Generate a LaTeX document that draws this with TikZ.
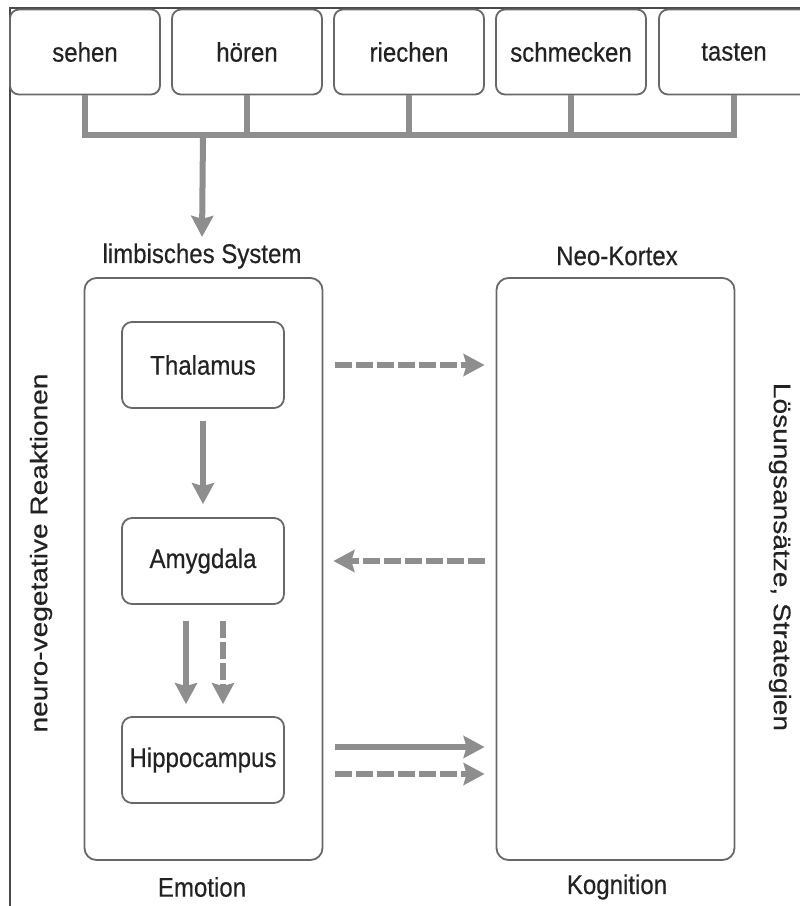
\documentclass[tikz,border=0pt]{standalone}
\usepackage{fontspec}
\usetikzlibrary{arrows.meta}
\newfontfamily\lab[FakeStretch=0.89,FakeBold=0.4]{Liberation Sans}
\newfontfamily\rotlab[FakeStretch=1.17,FakeBold=0.4]{Liberation Sans}
\definecolor{boxgray}{HTML}{686868}
\definecolor{arrowgray}{HTML}{8E8E8E}
\definecolor{textgray}{HTML}{222222}
\definecolor{framegray}{HTML}{4A4A4A}

\begin{document}
\begin{tikzpicture}[x=1pt,y=-1pt]
		\tikzstyle{every node}=[font=\lab\fontsize{27}{32}\selectfont,text=textgray]
		\tikzstyle{every edge}=[draw,color=arrowgray,line width=6pt]
		\tikzstyle{sense}=[draw=boxgray,line width=1.8pt,rounded corners=9pt,minimum width=150pt,minimum height=85pt]
		\tikzstyle{region}=[draw=boxgray,line width=1.8pt,rounded corners=12pt,minimum width=238pt,minimum height=582pt]
		\tikzstyle{part}=[draw=boxgray,line width=1.8pt,rounded corners=10pt,minimum width=162pt,minimum height=86pt]
		\tikzstyle{bus}=[draw=arrowgray,line width=6pt]
		\tikzstyle{dashline}=[dash pattern=on 17pt off 4pt]
		\useasboundingbox (0,0) rectangle (800,906);
		\draw [framegray,line width=1.5pt] (10,906) -- (10,8) -- (800,8);

		\node (sehen) at (85,52) [sense] {sehen};
		\node (hoeren) at (247,52) [sense] {hören};
		\node (riechen) at (409,52) [sense] {riechen};
		\node (schmecken) at (571,52) [sense] {schmecken};
		\node (tasten) at (734,52) [sense] {tasten};

		\draw [bus] (sehen.south) -- ++(0,40) -| (tasten.south);
		\draw [bus] (hoeren.south) -- ++(0,40);
		\draw [bus] (riechen.south) -- ++(0,40);
		\draw [bus] (schmecken.south) -- ++(0,40);
		\coordinate (fork) at (203,135);

		\node (limbtitle) at (202,256) {limbisches System};
		\node (neotitle) at (617,256) {Neo-Kortex};
		\node (limbic) at (203.5,569) [region] {};
		\node (neo) at (615.5,569) [region] {};
		\node (emotion) at (202,887) {Emotion};
		\node (kognition) at (617,887) {Kognition};

		\node (thalamus) at (203,365) [part] {Thalamus};
		\node (amygdala) at (203,561) [part] {Amygdala};
		\node (hippocampus) at (203,760) [part] {Hippocampus};

		\node (neuro) at (41,553) [rotate=90,font=\rotlab\fontsize{24}{28}\selectfont] {neuro-vegetative Reaktionen};
		\node (loesung) at (780,557) [rotate=-90,font=\rotlab\fontsize{24}{28}\selectfont] {Lösungsansätze, Strategien};

		\path [-{Stealth[length=21pt,width=22pt,inset=3pt]}] (fork) edge[shorten >=3pt] (limbtitle.north);
		\path [-{Stealth[length=21pt,width=22pt,inset=3pt]}] (thalamus) edge[shorten <=12pt,shorten >=13pt] (amygdala);
		\path [-{Stealth[length=21pt,width=22pt,inset=3pt]}] ([xshift=-17pt]amygdala.south) edge[shorten <=16pt,shorten >=12pt] ([xshift=-17pt]hippocampus.north);
		\path [dashline,-{Stealth[length=21pt,width=22pt,inset=3pt]}] ([xshift=20pt]amygdala.south) edge[shorten <=16pt,shorten >=12pt] ([xshift=20pt]hippocampus.north);

		\path [dashline,-{Stealth[length=21pt,width=22pt,inset=3pt]}] (limbic.east |- thalamus) edge[shorten <=12pt,shorten >=11pt] (neo.west |- thalamus);
		\path [dashline,-{Stealth[length=21pt,width=22pt,inset=3pt]}] (neo.west |- amygdala) edge[shorten <=11pt,shorten >=10pt] (limbic.east |- amygdala);
		\path [-{Stealth[length=21pt,width=22pt,inset=3pt]}] ([yshift=13pt]limbic.east |- hippocampus) edge[shorten <=12pt,shorten >=11pt] ([yshift=13pt]neo.west |- hippocampus);
		\path [dashline,-{Stealth[length=21pt,width=22pt,inset=3pt]}] ([yshift=-14pt]limbic.east |- hippocampus) edge[shorten <=12pt,shorten >=11pt] ([yshift=-14pt]neo.west |- hippocampus);
	\end{tikzpicture}
\end{document}
